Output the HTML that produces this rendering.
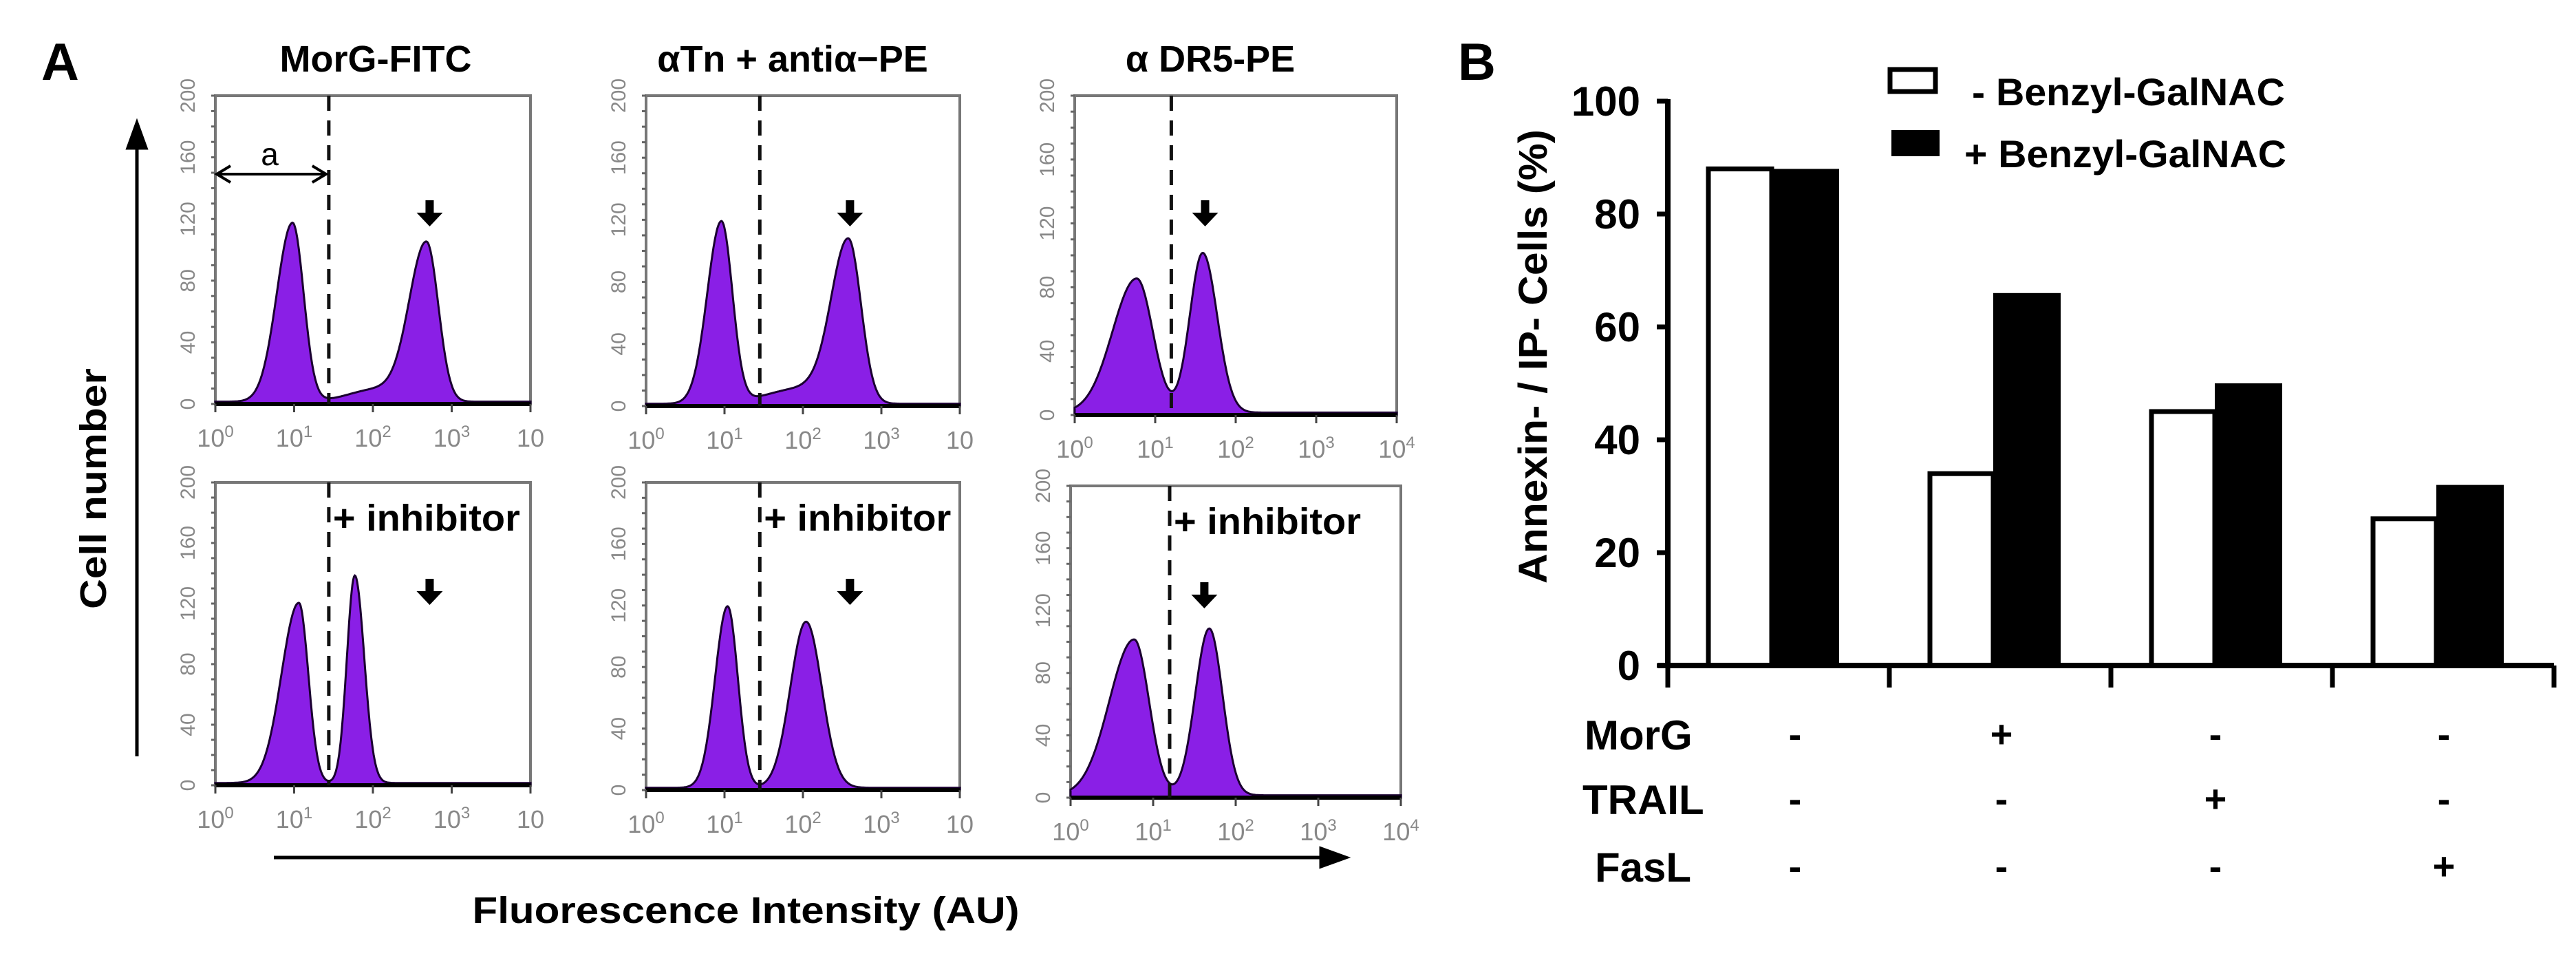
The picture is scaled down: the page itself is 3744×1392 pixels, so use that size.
<!DOCTYPE html>
<html><head><meta charset="utf-8"><style>
html,body{margin:0;padding:0;background:#fff;}
svg{display:block;}
text{font-family:"Liberation Sans",sans-serif;}
</style></head><body>
<svg id="fig" width="3744" height="1392" viewBox="0 0 3744 1392" xmlns="http://www.w3.org/2000/svg">
<g id="panelA"></g>
<g id="panelB"></g>
</svg>
<script>
// ---------- Panel A data ----------
const histTitles = ["MorG-FITC", "\u03b1Tn + anti\u03b1\u2212PE", "\u03b1 DR5-PE"];
// peaks per histogram: [center (log10 decades), height (cells), sigmaLeft, sigmaRight]
const histTop1 = [[0.98,116,0.2,0.14],[2.68,103,0.22,0.15],[2.05,8,0.35,0.3]];
const histTop2 = [[0.96,117,0.18,0.14],[2.58,105,0.22,0.16],[2.0,10,0.45,0.3]];
const histTop3 = [[0.77,84,0.3,0.2],[1.59,100,0.16,0.18]];
const histBot1 = [[1.06,119,0.22,0.12],[1.77,137,0.1,0.12]];
const histBot2 = [[1.04,118,0.16,0.13],[2.04,108,0.2,0.2]];
const histBot3 = [[0.77,100,0.3,0.18],[1.68,107,0.17,0.16]];
const gateLog = [1.44, 1.45, 1.2];
const arrowLog = [2.72, 2.6, 1.62];
const yTicksA = [0, 40, 80, 120, 160, 200];
const xDecades = [0, 1, 2, 3, 4];

// ---------- Panel B data ----------
const barGroups = ["control", "MorG", "TRAIL", "FasL"];
const seriesMinus = [88, 34, 45, 26];
const seriesPlus = [88, 66, 50, 32];
const yTicksB = [0, 20, 40, 60, 80, 100];
const rowNames = ["MorG", "TRAIL", "FasL"];
const rowMorG = ["-", "+", "-", "-"];
const rowTRAIL = ["-", "-", "+", "-"];
const rowFasL = ["-", "-", "-", "+"];

const NS = "http://www.w3.org/2000/svg";
function mk(parent, tag, attrs, txt) {
  const e = document.createElementNS(NS, tag);
  for (const k in attrs) e.setAttribute(k, attrs[k]);
  if (txt !== undefined) e.textContent = txt;
  parent.appendChild(e);
  return e;
}
const A = document.getElementById("panelA");
const B = document.getElementById("panelB");

// Panel A labels
let t = mk(A, "text", {x: 60, y: 116, "font-size": 76, "font-weight": "bold"}, "A");



const boxes = [
  {x0: 313, x1: 771, top: 139, base: 587, col: 0, hist: histTop1, inh: false},
  {x0: 939, x1: 1395, top: 139, base: 590, col: 1, hist: histTop2, inh: false},
  {x0: 1562, x1: 2030, top: 139, base: 603, col: 2, hist: histTop3, inh: false},
  {x0: 313, x1: 771, top: 701, base: 1141, col: 0, hist: histBot1, inh: true},
  {x0: 939, x1: 1395, top: 701, base: 1148, col: 1, hist: histBot2, inh: true},
  {x0: 1556, x1: 2036, top: 706, base: 1159, col: 2, hist: histBot3, inh: true}
];
const titleX = [546, 1152, 1759];
histTitles.forEach((s, i) => {
  const tt = mk(A, "text", {x: titleX[i], y: 104, "font-size": 54, "font-weight": "bold", "text-anchor": "middle"}, s);
  
  
});

boxes.forEach((b, bi) => {
  const g = mk(A, "g", {});
  
  
  const W = b.x1 - b.x0, H = b.base - b.top;
  const xs = d => b.x0 + d / 4 * W;
  const ys = v => b.base - v / 200 * H;
  // frame
  const fr = mk(g, "rect", {x: b.x0, y: b.top, width: W, height: H, fill: "#fff", stroke: "#777", "stroke-width": 4});
  
  
  // histogram
  let d = "M" + xs(0) + "," + ys(0);
  for (let k = 0; k <= 400; k++) {
    const lx = k / 100;
    let v = 0;
    b.hist.forEach(p => {
      const s = lx < p[0] ? p[2] : p[3];
      v += p[1] * Math.exp(-0.5 * Math.pow((lx - p[0]) / s, 2));
    });
    v += 1.5;
    d += " L" + xs(lx).toFixed(1) + "," + ys(Math.min(v, 200)).toFixed(1);
  }
  d += " L" + xs(4) + "," + ys(0) + " Z";
  const hp = mk(g, "path", {d: d, fill: "#8a1fe6", stroke: "#1a0030", "stroke-width": 3});
  
  
  // baseline
  mk(g, "line", {x1: b.x0, y1: b.base, x2: b.x1, y2: b.base, stroke: "#000", "stroke-width": 6});
  // y axis minor ticks
  for (let v = 0; v <= 200; v += 10) {
    mk(g, "line", {x1: b.x0 - 6, y1: ys(v), x2: b.x0, y2: ys(v), stroke: "#666", "stroke-width": 3});
  }
  yTicksA.forEach(v => {
    const yl = mk(g, "text", {x: 0, y: 0, "font-size": 30, fill: "#888", "text-anchor": "middle", transform: "translate(" + (b.x0 - 30) + "," + ys(v) + ") rotate(-90)"}, String(v));
    
    
  });
  xDecades.forEach(k => {
    const xl = mk(g, "text", {x: xs(k), y: b.base + 62, "font-size": 36, fill: "#888", "text-anchor": "middle"});
    
    
    xl.appendChild(document.createTextNode("10"));
    if (!(k === 4 && b.col < 2)) {
      const sup = mk(xl, "tspan", {dy: -14, "font-size": 24}, String(k));
    }
    mk(g, "line", {x1: xs(k), y1: b.base, x2: xs(k), y2: b.base + 12, stroke: "#444", "stroke-width": 3});
  });
  // gate
  const gx = xs(gateLog[b.col]);
  const gl = mk(g, "line", {x1: gx, y1: b.top, x2: gx, y2: b.base, stroke: "#111", "stroke-width": 5, "stroke-dasharray": "22,14"});
  
  
  // arrow
  const ax = xs(arrowLog[b.col]);
  const ay = b.inh ? b.top + 140 : b.top + 152;
  const ar = mk(g, "path", {d: `M${ax-6},${ay} h12 v18 h13 l-19,20 l-19,-20 h13 z`, fill: "#000"});
  
  
  if (b.inh) {
    const it = mk(g, "text", {x: gx + 6, y: b.top + 70, "font-size": 54, "font-weight": "bold", textLength: 272, lengthAdjust: "spacingAndGlyphs"}, "+ inhibitor");
    
    
  }
  if (bi === 0) {
    const aa = mk(g, "path", {d: `M${b.x0+2},253 L${gx-4},253 M${b.x0+22},241 L${b.x0+2},253 L${b.x0+22},265 M${gx-24},241 L${gx-4},253 L${gx-24},265`, stroke: "#000", "stroke-width": 4, fill: "none"});
    
    
    const at = mk(g, "text", {x: 392, y: 240, "font-size": 46, "text-anchor": "middle"}, "a");
    
    
  }
});

// axis arrows + titles for panel A
let va = mk(A, "path", {d: "M199,1099 L199,200 M186,215 L199,179 L212,215 Z", stroke: "#000", "stroke-width": 5, fill: "#000"});


let ct = mk(A, "text", {x: 0, y: 0, "font-size": 54, "font-weight": "bold", "text-anchor": "middle", transform: "translate(154,710) rotate(-90)", textLength: 350, lengthAdjust: "spacingAndGlyphs"}, "Cell number");


let ha = mk(A, "path", {d: "M398,1246 L1935,1246 M1920,1233 L1956,1246 L1920,1259 Z", stroke: "#000", "stroke-width": 5, fill: "#000"});


let ft = mk(A, "text", {x: 1084, y: 1341, "font-size": 54, "font-weight": "bold", "text-anchor": "middle", textLength: 795, lengthAdjust: "spacingAndGlyphs"}, "Fluorescence Intensity (AU)");



// ---------- Panel B ----------
const bx0 = 2424, bx1 = 3712, by0 = 967, by100 = 147;
const yB = v => by0 - (v / 100) * (by0 - by100);
const groupW = (bx1 - bx0) / barGroups.length;
const barW = 92;
const gc = i => bx0 + groupW * (i + 0.5) - 10;

t = mk(B, "text", {x: 2119, y: 116, "font-size": 76, "font-weight": "bold"}, "B");



barGroups.forEach((gname, i) => {
  const c = gc(i);
  const r1 = mk(B, "rect", {x: c - barW, y: yB(seriesMinus[i]), width: barW, height: by0 - yB(seriesMinus[i]), fill: "#fff", stroke: "#000", "stroke-width": 7});
  
  
  const r2 = mk(B, "rect", {x: c, y: yB(seriesPlus[i]), width: barW + 6, height: by0 - yB(seriesPlus[i]), fill: "#000"});
  
  
});
// axes
let yax = mk(B, "line", {x1: bx0, y1: by100 - 3, x2: bx0, y2: by0 + 4, stroke: "#000", "stroke-width": 8});


let xax = mk(B, "line", {x1: bx0 - 14, y1: by0, x2: bx1, y2: by0, stroke: "#000", "stroke-width": 8});


for (let i = 0; i <= barGroups.length; i++) {
  mk(B, "line", {x1: bx0 + groupW * i, y1: by0, x2: bx0 + groupW * i, y2: by0 + 32, stroke: "#000", "stroke-width": 7});
}
yTicksB.forEach(v => {
  mk(B, "line", {x1: bx0 - 16, y1: yB(v), x2: bx0, y2: yB(v), stroke: "#000", "stroke-width": 7});
  const tl = mk(B, "text", {x: 2384, y: yB(v) + 21, "font-size": 60, "font-weight": "bold", "text-anchor": "end"}, String(v));
  
  
});
let yt = mk(B, "text", {x: 0, y: 0, "font-size": 58, "font-weight": "bold", "text-anchor": "middle", transform: "translate(2248,518) rotate(-90)", textLength: 660, lengthAdjust: "spacingAndGlyphs"}, "Annexin- / IP- Cells (%)");



// legend
let lb1 = mk(B, "rect", {x: 2747, y: 101, width: 66, height: 32, fill: "#fff", stroke: "#000", "stroke-width": 7});


let lt1 = mk(B, "text", {x: 2866, y: 153, "font-size": 56, "font-weight": "bold", textLength: 455, lengthAdjust: "spacingAndGlyphs"}, "- Benzyl-GalNAC");


let lb2 = mk(B, "rect", {x: 2749, y: 189, width: 70, height: 38, fill: "#000"});


let lt2 = mk(B, "text", {x: 2855, y: 243, "font-size": 56, "font-weight": "bold", textLength: 468, lengthAdjust: "spacingAndGlyphs"}, "+ Benzyl-GalNAC");



// treatment table
const rows = [rowMorG, rowTRAIL, rowFasL];
const rowY = [1068, 1162, 1260];
const rowX = [2303, 2300, 2318];
const colX = [2609, 2909, 3220, 3552];
rowNames.forEach((n, r) => {
  const rl = mk(B, "text", {x: rowX[r], y: rowY[r] + 21, "font-size": 60, "font-weight": "bold"}, n);
  
  
  rows[r].forEach((s, c) => {
    const cl = mk(B, "text", {x: colX[c], y: rowY[r] + 18, "font-size": 56, "font-weight": "bold", "text-anchor": "middle"}, s);
    
    
  });
});
</script>
</body></html>
